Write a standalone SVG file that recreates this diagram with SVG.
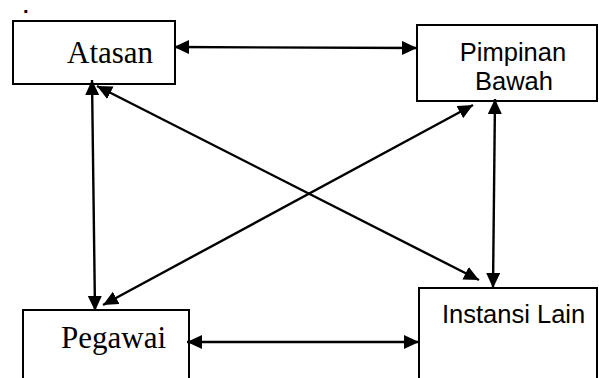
<svg xmlns="http://www.w3.org/2000/svg" width="599" height="378" viewBox="0 0 599 378">
<style>
.box{fill:#fff;stroke:#000;stroke-width:2}
.serif{font-family:"Liberation Serif","Times New Roman",serif;font-size:31px;fill:#000}
.sans{font-family:"Liberation Sans",Arial,sans-serif;font-size:25.5px;fill:#000}
.conn{stroke:#000;stroke-width:2.4;fill:none;marker-start:url(#ah);marker-end:url(#ah)}
</style>
<defs>
<marker id="ah" markerUnits="userSpaceOnUse" markerWidth="16" markerHeight="15" refX="15" refY="7" orient="auto-start-reverse">
<path d="M0,0 L15,7 L0,14 z" fill="#000"/>
</marker>
</defs>
<rect width="599" height="378" fill="#fff"/>
<text x="23" y="13" style="font-family:'Liberation Sans',Arial,sans-serif;font-size:20px;font-weight:bold;fill:#000">.</text>
<g id="atasan">
<rect class="box" x="13" y="21" width="162" height="63"/>
<text class="serif" x="67" y="63">Atasan</text>
</g>
<g id="pimpinan-bawah">
<rect class="box" x="417" y="25" width="180" height="76"/>
<text class="sans" x="513" y="61" text-anchor="middle">Pimpinan</text>
<text class="sans" x="514" y="90" text-anchor="middle">Bawah</text>
</g>
<g id="pegawai">
<rect class="box" x="23" y="310" width="166" height="80"/>
<text class="serif" x="61" y="348">Pegawai</text>
</g>
<g id="instansi-lain">
<rect class="box" x="419" y="288" width="178" height="100"/>
<text class="sans" x="442" y="323">Instansi Lain</text>
</g>
<g id="connectors">
<line class="conn" x1="174" y1="47" x2="417" y2="48"/>
<line class="conn" x1="92" y1="80" x2="95" y2="311"/>
<line class="conn" x1="97" y1="86" x2="479" y2="280"/>
<line class="conn" x1="103" y1="305" x2="473" y2="105"/>
<line class="conn" x1="495" y1="99" x2="493" y2="288"/>
<line class="conn" x1="187" y1="342" x2="419" y2="342"/>
</g>
</svg>
